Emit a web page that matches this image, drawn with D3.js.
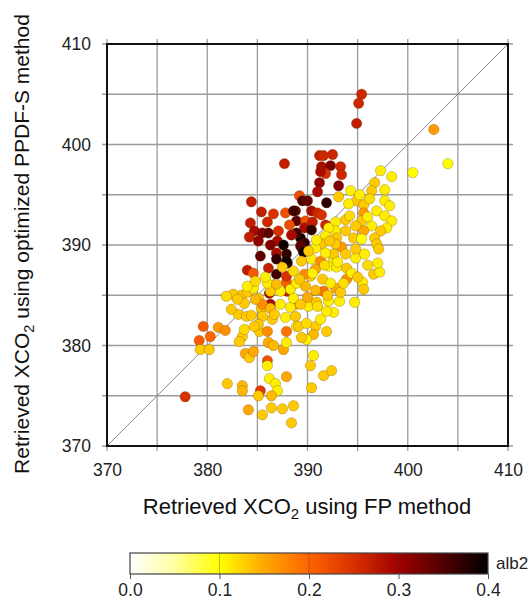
<!DOCTYPE html>
<html><head><meta charset="utf-8">
<script src="https://cdn.jsdelivr.net/npm/d3@7"></script>
<style>body{margin:0;background:#fff;} text{font-family:"Liberation Sans",Arial,sans-serif;fill:#222;}</style>
</head><body>
<svg id="c" width="529" height="604"></svg>
<script>
// Retrieved XCO2 using FP method (x), PPDF-S method (y), colour = alb2
const fpX = [377.8,395.4,395.1,394.9,402.6,404.0,400.5,387.7,
391.2,391.6,392.5,391.4,392.3,393.3,391.8,393.4,391.3,391.2,393.1,391.0,389.2,389.5,390.0,391.9,388.8,390.4,391.0,391.4,388.9,389.8,390.5,391.8,389.7,390.4,389.3,389.7,389.5,388.9,
384.4,385.4,386.6,387.8,388.6,384.3,386.0,387.1,388.2,384.7,385.5,384.2,385.1,386.1,387.0,386.3,387.6,388.4,385.3,387.9,386.9,389.3,389.6,388.0,386.9,384.0,384.6,386.1,388.0,386.2,387.9,386.9,387.9,387.9,386.3,
379.6,379.2,380.3,381.1,381.8,379.3,380.2,383.1,383.9,383.5,383.2,383.8,384.2,384.6,383.4,384.0,382.6,383.7,384.4,385.4,385.2,386.0,386.1,386.6,387.6,387.9,386.0,386.0,382.0,383.5,383.5,385.3,385.1,386.2,386.8,387.0,386.4,387.9,384.1,385.5,386.4,387.5,388.6,388.4,
385.1,385.5,386.3,385.5,386.5,385.1,386.3,387.3,388.3,388.8,388.3,388.8,387.9,388.9,388.6,387.3,384.6,384.0,386.0,386.9,388.9,
390.6,390.3,390.4,391.6,392.4,392.6,394.7,395.5,395.6,396.6,397.2,393.9,393.2,392.1,390.8,390.6,391.3,389.9,389.4,389.1,390.1,389.3,
389.4,390.4,391.3,392.1,392.6,393.9,392.9,394.8,395.7,397.0,392.8,391.6,390.8,389.8,390.3,390.8,389.7,
397.3,398.4,396.7,396.4,397.7,394.3,393.1,394.9,394.1,395.6,397.7,398.2,396.9,395.6,397.7,398.4,395.4,393.8,392.8,396.4,397.9,397.3,395.6,394.8,393.8,392.8,392.1,391.8,392.9,394.6,395.4,396.7,396.9,397.1,393.4,392.8,391.4,390.8,393.8,394.8,392.6,391.8,390.1,
390.5,391.5,392.3,393.3,391.9,390.9,
383.0,384.8,385.8,387.5,388.6,389.2,390.0,391.0,392.0,393.6,394.4,395.0,396.0,393.0,391.7,390.9,392.2,394.2,396.0,396.2,395.2,384.8,382.4,381.9,386.7,387.8,389.9,391.9,384.7,383.7];
const ppdfY = [374.9,405.0,404.1,402.1,401.5,398.1,397.2,398.1,
398.9,398.9,399.0,397.8,397.9,397.8,397.1,397.0,397.3,396.2,395.9,395.3,394.9,394.4,394.4,394.2,393.4,393.4,393.2,393.0,392.4,392.4,392.3,392.0,391.7,391.5,390.7,390.2,389.6,391.2,
394.3,393.3,393.1,393.2,393.4,392.2,392.3,391.4,392.0,391.4,391.2,390.8,390.4,391.2,390.4,390.0,390.0,391.0,388.9,389.1,389.2,389.9,389.3,388.2,387.1,387.5,387.2,387.7,385.4,385.2,386.3,388.6,388.4,386.9,384.1,
381.9,380.5,380.9,381.8,381.5,379.6,379.6,383.1,382.9,380.9,380.4,379.2,378.8,379.4,385.0,385.3,385.1,384.2,383.0,383.7,381.4,381.4,380.3,380.0,379.6,380.3,378.5,378.0,376.2,376.0,375.5,375.5,375.0,376.7,376.2,375.5,375.0,376.9,373.6,373.1,373.8,373.7,374.0,372.3,
384.7,384.1,383.7,382.9,382.6,382.1,385.4,385.4,385.6,384.1,383.8,382.9,381.4,381.9,384.7,384.1,385.7,385.9,386.2,386.1,386.2,
379.0,378.0,375.8,377.0,377.5,383.3,384.3,386.3,385.6,387.1,387.3,386.6,384.4,384.4,381.9,381.1,382.6,380.6,380.8,381.9,383.9,384.1,
388.4,388.6,388.4,387.9,388.7,387.7,387.8,388.7,389.1,388.2,385.7,385.4,385.5,385.9,386.9,387.6,387.1,
397.4,396.8,396.2,395.4,395.5,395.4,394.8,394.4,394.1,394.0,394.4,393.9,393.4,393.2,392.9,392.4,392.4,392.5,392.3,391.9,391.7,391.4,391.4,391.9,391.4,391.4,391.7,390.9,390.7,390.7,390.6,390.7,390.1,389.6,389.8,390.1,390.1,389.7,389.1,389.6,389.1,389.2,389.4,
387.2,386.6,386.2,385.3,383.4,384.3,
384.6,386.4,386.8,387.8,387.4,386.6,384.8,383.9,385.0,386.2,387.2,386.8,388.0,388.3,388.0,390.5,390.4,392.9,392.8,394.6,395.0,384.6,383.6,384.9,383.1,382.8,382.2,381.4,381.9,381.6];
const alb2 = [0.25,0.26,0.26,0.27,0.16,0.10,0.10,0.27,
0.27,0.26,0.26,0.29,0.32,0.26,0.25,0.26,0.29,0.31,0.32,0.29,0.22,0.35,0.34,0.37,0.34,0.29,0.26,0.25,0.34,0.22,0.27,0.26,0.29,0.37,0.39,0.37,0.39,0.36,
0.27,0.27,0.25,0.22,0.36,0.27,0.26,0.25,0.22,0.29,0.32,0.27,0.31,0.34,0.29,0.32,0.39,0.29,0.34,0.37,0.29,0.34,0.39,0.37,0.36,0.27,0.21,0.27,0.27,0.29,0.21,0.37,0.39,0.25,0.29,
0.21,0.21,0.20,0.16,0.17,0.13,0.13,0.13,0.13,0.13,0.13,0.15,0.13,0.15,0.13,0.13,0.13,0.13,0.13,0.13,0.13,0.17,0.15,0.14,0.15,0.11,0.22,0.11,0.13,0.14,0.14,0.24,0.13,0.11,0.11,0.11,0.14,0.15,0.15,0.13,0.13,0.13,0.13,0.13,
0.13,0.17,0.14,0.13,0.13,0.13,0.13,0.11,0.11,0.16,0.11,0.13,0.19,0.11,0.11,0.11,0.11,0.11,0.11,0.14,0.11,
0.11,0.13,0.13,0.13,0.13,0.11,0.11,0.11,0.13,0.13,0.11,0.17,0.11,0.11,0.13,0.14,0.11,0.11,0.13,0.13,0.11,0.13,
0.13,0.11,0.17,0.10,0.11,0.13,0.11,0.11,0.11,0.11,0.15,0.19,0.14,0.14,0.13,0.15,0.17,
0.11,0.11,0.13,0.13,0.11,0.11,0.13,0.13,0.11,0.13,0.11,0.11,0.11,0.16,0.11,0.11,0.13,0.13,0.11,0.11,0.11,0.13,0.15,0.13,0.13,0.11,0.11,0.11,0.13,0.13,0.10,0.13,0.13,0.13,0.16,0.13,0.13,0.11,0.13,0.13,0.13,0.11,0.13,
0.11,0.13,0.11,0.13,0.11,0.13,
0.13,0.12,0.11,0.13,0.12,0.13,0.15,0.12,0.13,0.12,0.11,0.13,0.12,0.11,0.12,0.11,0.13,0.12,0.11,0.12,0.11,0.14,0.13,0.12,0.13,0.11,0.12,0.13,0.13,0.12];
const axisTicks = [370,380,390,400,410];
const gridTicks = [370,375,380,385,390,395,400,405,410];
const cbarTicks = [0.0,0.1,0.2,0.3,0.4];
const cmapStops = [0,0.05,0.1,0.15,0.2,0.25,0.3,0.35,0.4];
const cmapColors = ["#ffffff","#ffffa0","#ffff00","#ffa800","#ff6400","#d83000","#a00000","#500000","#000000"];

const svg = d3.select("#c");
const L=107, T=44, W=401, H=402;
const x = d3.scaleLinear().domain([370,410]).range([L, L+W]);
const y = d3.scaleLinear().domain([370,410]).range([T+H, T]);
const color = d3.scaleLinear().domain(cmapStops).range(cmapColors).interpolate(d3.interpolateRgb).clamp(true);
const ext = 5;
const g = svg.append("g");
g.selectAll(".gx").data(gridTicks).join("line")
  .attr("x1",d=>x(d)).attr("x2",d=>x(d)).attr("y1",T-ext).attr("y2",T+H+ext)
  .attr("stroke","#9c9c9c").attr("stroke-width",1.3);
g.selectAll(".gy").data(gridTicks).join("line")
  .attr("y1",d=>y(d)).attr("y2",d=>y(d)).attr("x1",L-ext).attr("x2",L+W+ext)
  .attr("stroke","#9c9c9c").attr("stroke-width",1.3);
g.append("line").attr("x1",x(370)).attr("y1",y(370)).attr("x2",x(410)).attr("y2",y(410))
  .attr("stroke","#888").attr("stroke-width",1);
const pts = fpX.map((v,i)=>({x:v,y:ppdfY[i],a:alb2[i]}));
g.selectAll("circle").data(pts).join("circle")
  .attr("cx",d=>x(d.x)).attr("cy",d=>y(d.y)).attr("r",5.2)
  .attr("fill",d=>color(d.a)).attr("stroke","rgba(90,60,0,0.4)").attr("stroke-width",0.7);
g.append("rect").attr("x",L).attr("y",T).attr("width",W).attr("height",H)
  .attr("fill","none").attr("stroke","#111").attr("stroke-width",2);
const xAx = d3.axisBottom(x).tickValues(axisTicks).tickSize(0).tickFormat(d3.format("d"));
const gx = svg.append("g").attr("transform",`translate(0,${T+H+15})`).call(xAx);
gx.select(".domain").remove();
gx.selectAll("text").attr("font-size",17.5).attr("fill","#2a2a2a").attr("dy","0.71em")
  .style("font-family","Liberation Sans, Arial, sans-serif");
const yAx = d3.axisLeft(y).tickValues(axisTicks).tickSize(0).tickFormat(d3.format("d"));
const gy = svg.append("g").attr("transform",`translate(${L-13},0)`).call(yAx);
gy.select(".domain").remove();
gy.selectAll("text").attr("font-size",17.5).attr("fill","#2a2a2a")
  .style("font-family","Liberation Sans, Arial, sans-serif");
const xt = svg.append("text").attr("x",307).attr("y",514).attr("text-anchor","middle").attr("font-size",22).style("fill","#111");
xt.append("tspan").text("Retrieved XCO");
xt.append("tspan").text("2").attr("font-size",15).attr("dy",5);
xt.append("tspan").text(" using FP method").attr("dy",-5);
const yt = svg.append("text").attr("transform","translate(29,244) rotate(-90)").attr("text-anchor","middle").attr("font-size",21).style("fill","#111");
yt.append("tspan").text("Retrieved XCO");
yt.append("tspan").text("2").attr("font-size",14.5).attr("dy",5);
yt.append("tspan").text(" using optimized PPDF-S method").attr("dy",-5);
// colour bar
const cx = d3.scaleLinear().domain([0,0.4]).range([130,488]);
const defs = svg.append("defs");
const lg = defs.append("linearGradient").attr("id","cb").attr("x1","0%").attr("x2","100%");
d3.range(0,41).forEach(i=>{const v=i*0.01; lg.append("stop").attr("offset",(v/0.4*100)+"%").attr("stop-color",color(v));});
const cbY=553, cbH=21;
svg.append("rect").attr("x",cx(0)).attr("y",cbY).attr("width",cx(0.4)-cx(0)).attr("height",cbH).attr("fill","url(#cb)");
svg.selectAll(".cbl").data(cbarTicks.slice(1,-1)).join("line")
  .attr("x1",d=>cx(d)).attr("x2",d=>cx(d)).attr("y1",cbY).attr("y2",cbY+cbH)
  .attr("stroke","rgba(60,60,60,0.35)").attr("stroke-width",1);
svg.append("rect").attr("x",cx(0)).attr("y",cbY).attr("width",cx(0.4)-cx(0)).attr("height",cbH)
  .attr("fill","none").attr("stroke","#444").attr("stroke-width",1.2);
const cAx = d3.axisBottom(cx).tickValues(cbarTicks).tickSize(5).tickPadding(5).tickFormat(d3.format(".1f"));
const gc = svg.append("g").attr("transform",`translate(0,${cbY+cbH})`).call(cAx);
gc.select(".domain").remove();
gc.selectAll("line").attr("stroke","#555");
gc.selectAll("text").attr("font-size",17.5).attr("fill","#2a2a2a").style("font-family","Liberation Sans, Arial, sans-serif");
svg.append("text").attr("x",496).attr("y",569).attr("font-size",17).attr("fill","#2a2a2a").text("alb2");
</script>
</body></html>
